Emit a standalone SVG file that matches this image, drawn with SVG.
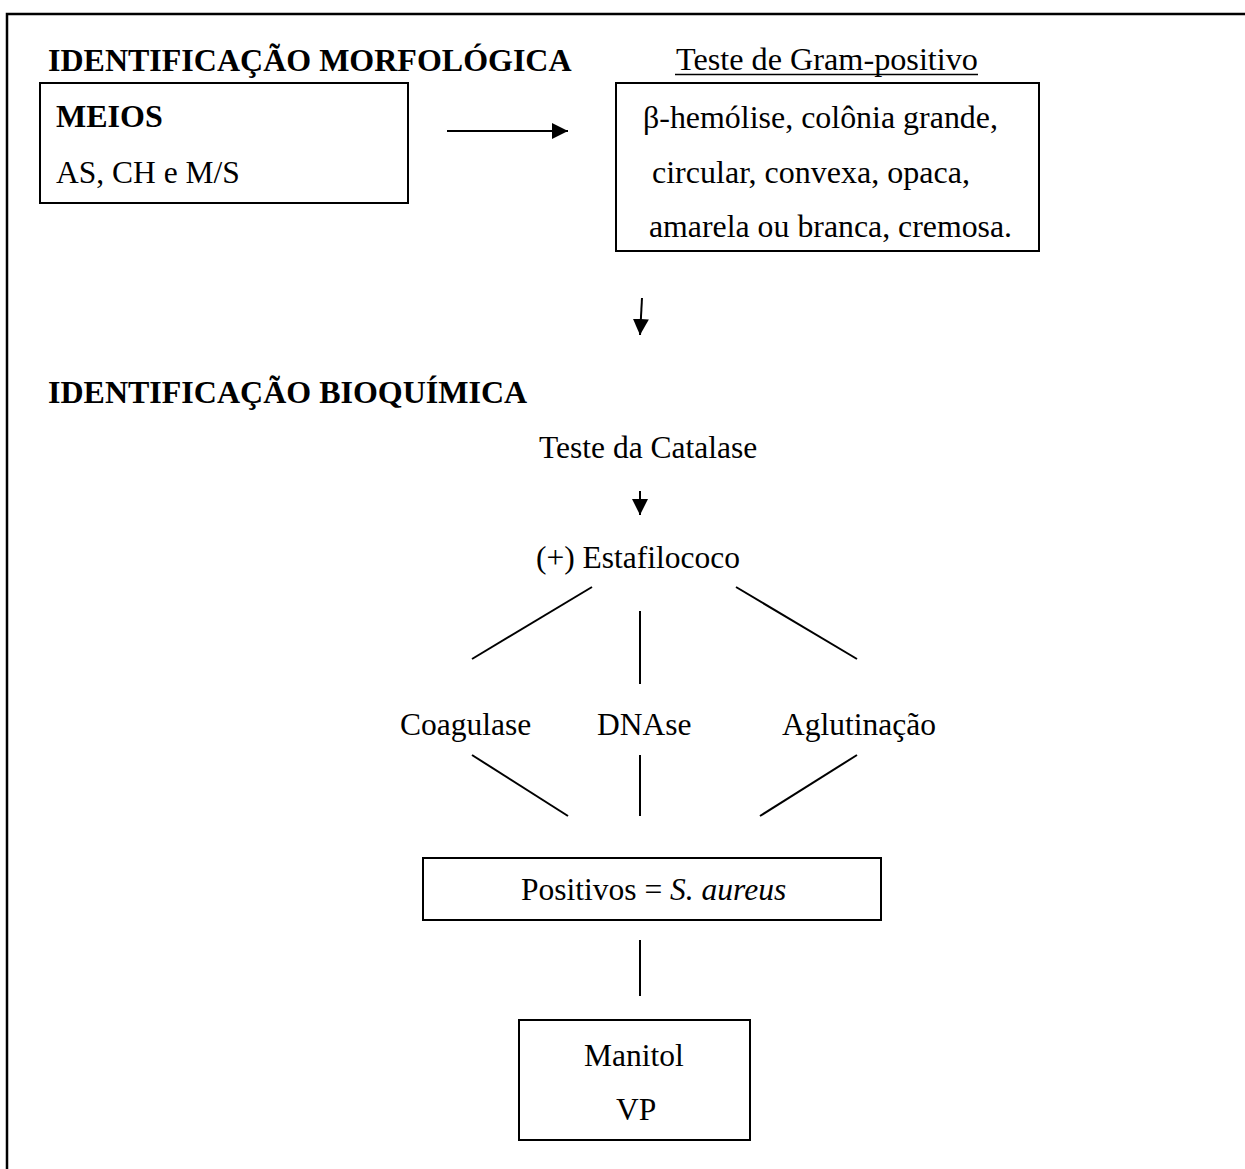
<svg xmlns="http://www.w3.org/2000/svg" width="1245" height="1169" viewBox="0 0 1245 1169">
<defs>
<style>
text{font-family:"Liberation Serif","Times New Roman",serif;font-size:31.5px;fill:#000}
.b{font-weight:bold;font-size:32px}
.box{fill:#fff;stroke:#000;stroke-width:2}
.ln{stroke:#000;stroke-width:2;fill:none}
</style>
<marker id="ah" markerUnits="userSpaceOnUse" markerWidth="17" markerHeight="17" refX="16" refY="8" orient="auto">
<path d="M0,0 L16,8 L0,16 z" fill="#000"/>
</marker>
</defs>
<rect width="1245" height="1169" fill="#fff"/>
<path d="M7,1169 V14 H1245" fill="none" stroke="#000" stroke-width="2.5"/>

<g id="heading-morf"><text class="b" x="48" y="71">IDENTIFICAÇÃO MORFOLÓGICA</text></g>
<g id="gram-title"><text x="676" y="70" textLength="302" lengthAdjust="spacingAndGlyphs">Teste de Gram-positivo</text><line x1="675" y1="74.5" x2="978" y2="74.5" stroke="#000" stroke-width="1.5"/></g>
<g id="meios">
<rect class="box" x="40" y="83" width="368" height="120"/>
<text class="b" x="56" y="127">MEIOS</text>
<text x="56" y="183">AS, CH e M/S</text>
</g>
<g id="morf-result">
<rect class="box" x="616" y="83" width="423" height="168"/>
<text x="643" y="128" textLength="355" lengthAdjust="spacingAndGlyphs">β-hemólise, colônia grande,</text>
<text x="652" y="183" textLength="318" lengthAdjust="spacingAndGlyphs">circular, convexa, opaca,</text>
<text x="649" y="237" textLength="363" lengthAdjust="spacingAndGlyphs">amarela ou branca, cremosa.</text>
</g>
<g id="heading-bioq"><text class="b" x="48" y="403">IDENTIFICAÇÃO BIOQUÍMICA</text></g>
<g id="catalase"><text x="539" y="458">Teste da Catalase</text></g>
<g id="estafilococo"><text x="536" y="568">(+) Estafilococo</text></g>
<g id="coagulase"><text x="400" y="735">Coagulase</text></g>
<g id="dnase"><text x="597" y="735">DNAse</text></g>
<g id="aglutinacao"><text x="782" y="735">Aglutinação</text></g>
<g id="positivos">
<rect class="box" x="423" y="858" width="458" height="62"/>
<text x="521" y="900">Positivos = <tspan font-style="italic">S. aureus</tspan></text>
</g>
<g id="manitol">
<rect class="box" x="519" y="1020" width="231" height="120"/>
<text x="584" y="1066">Manitol</text>
<text x="616" y="1120">VP</text>
</g>

<g id="connectors">
<line class="ln" x1="447" y1="131" x2="568" y2="131" marker-end="url(#ah)"/>
<line class="ln" x1="642" y1="298" x2="640" y2="335" marker-end="url(#ah)"/>
<line class="ln" x1="640" y1="491" x2="640" y2="515" marker-end="url(#ah)"/>
<line class="ln" x1="592" y1="587" x2="472" y2="659"/>
<line class="ln" x1="640" y1="611" x2="640" y2="684"/>
<line class="ln" x1="736" y1="587" x2="857" y2="659"/>
<line class="ln" x1="472" y1="755" x2="568" y2="816"/>
<line class="ln" x1="640" y1="755" x2="640" y2="816"/>
<line class="ln" x1="857" y1="755" x2="760" y2="816"/>
<line class="ln" x1="640" y1="940" x2="640" y2="996"/>
</g>
</svg>
